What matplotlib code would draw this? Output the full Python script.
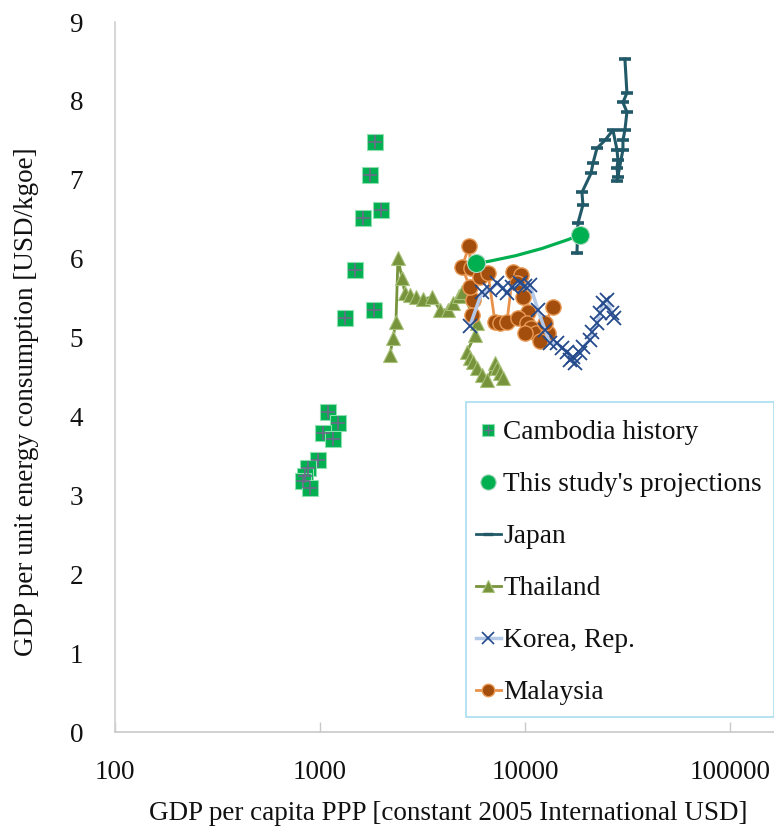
import matplotlib
matplotlib.use("Agg")
import matplotlib.pyplot as plt
from matplotlib.lines import Line2D
from matplotlib.patches import Rectangle
from matplotlib.ticker import FixedLocator, FixedFormatter, NullLocator

plt.rcParams['font.family'] = ['Liberation Serif', 'DejaVu Serif']

# GDP per capita PPP (constant 2005 international USD) and GDP per unit energy (USD/kgoe)
cambodia_gdp = [1854, 1753, 1985, 1621, 1482, 1834, 1324, 1094, 1224, 1034, 1157,
                978, 874, 845, 826, 894]
cambodia_eff = [7.48, 7.06, 6.62, 6.51, 5.86, 5.35, 5.25, 4.06, 3.92, 3.79, 3.71,
                3.45, 3.35, 3.24, 3.18, 3.09]

projection_gdp = [5768, 18530]
projection_eff = [5.94, 6.30]

japan_gdp = [17935, 18135, 19180, 18970, 20990, 21470, 22450, 24560, 26880, 28110,
             28430, 28110, 28430, 28110, 30060, 30060, 30740, 31440, 30060, 31440, 30740]
japan_eff = [6.07, 6.45, 6.68, 6.84, 7.08, 7.21, 7.40, 7.50, 7.63, 7.38,
             7.25, 7.15, 7.03, 6.98, 7.38, 7.50, 7.63, 7.86, 7.98, 8.10, 8.53]

thailand_gdp = [2195, 2270, 2348, 2402, 2512, 2598, 2748, 2940, 3180, 3518, 3849,
                4211, 4455, 4764, 4928, 5833, 5703, 5213, 5392, 5576, 5833, 6169,
                6525, 7140, 7302, 7551, 7811]
thailand_eff = [4.78, 4.99, 5.20, 6.01, 5.75, 5.56, 5.54, 5.51, 5.49, 5.51, 5.35,
                5.35, 5.44, 5.53, 5.58, 5.18, 5.03, 4.82, 4.74, 4.69, 4.61, 4.52,
                4.46, 4.68, 4.61, 4.55, 4.49]

korea_gdp = [5392, 6169, 6751, 7302, 7811, 8170, 8643, 9454, 10000, 10580, 11570,
             12520, 13240, 14330, 15150, 16030, 16580, 17530, 17140, 18540, 19180,
             20750, 21220, 22450, 23220, 24020, 25120, 26570, 27180]
korea_eff = [5.15, 5.58, 5.60, 5.69, 5.63, 5.56, 5.64, 5.69, 5.65, 5.67, 5.35,
             5.10, 4.93, 4.93, 4.87, 4.82, 4.71, 4.68, 4.75, 4.80, 4.88,
             4.97, 5.07, 5.18, 5.31, 5.44, 5.48, 5.31, 5.25]

malaysia_gdp = [5515, 5576, 5392, 4928, 5332, 5452, 6033, 6598, 7140, 7551, 8170,
                8741, 9561, 9142, 9777, 10340, 9245, 10230, 10700, 11320, 10000,
                12950, 11840, 12520, 13700]
malaysia_eff = [5.29, 5.48, 5.64, 5.89, 6.16, 5.88, 5.77, 5.82, 5.20, 5.18, 5.20,
                5.83, 5.79, 5.69, 5.51, 5.32, 5.25, 5.18, 5.12, 5.06, 5.06,
                5.06, 4.96, 5.18, 5.39]

x_ticks = [100, 1000, 10000, 100000]
x_tick_labels = ['100', '1000', '10000', '100000']
y_ticks = list(range(0, 10))

GREEN = '#00B050'
JAPAN = '#215968'
THAI = '#77933C'
KOREA_M = '#254A8C'
KOREA_L = '#B4C8E8'
MALAY = '#A34E0C'
MALAY_E = '#E99A55'
MALAY_L = '#E8914A'
TEXT = '#111111'

W, H = 774, 831
fig = plt.figure(figsize=(W / 100, H / 100), dpi=100)
ax = fig.add_axes([115 / W, 99 / H, 659 / W, 710 / H])

ax.plot(thailand_gdp, thailand_eff, color=THAI, lw=2, marker='^', ms=10,
        mfc=THAI, mec='#A9C27A', mew=0.8, zorder=3)
ax.plot(malaysia_gdp, malaysia_eff, color=MALAY_L, lw=2, marker='o', ms=11,
        mfc=MALAY, mec=MALAY_E, mew=1.0, zorder=4)
ax.plot(korea_gdp, korea_eff, color=KOREA_L, lw=2.5, marker='x', ms=10,
        mec=KOREA_M, mew=1.3, zorder=5)
ax.plot(japan_gdp, japan_eff, color=JAPAN, lw=2.2, marker='_', ms=9,
        mec=JAPAN, mew=2.6, zorder=6)

# projection path: a straight line in linear GDP terms bends on the log axis
ax.annotate('', xy=(projection_gdp[1], projection_eff[1]),
            xytext=(projection_gdp[0], projection_eff[0]),
            arrowprops=dict(arrowstyle='-', color=GREEN, lw=2.3,
                            connectionstyle='arc3,rad=0.06',
                            shrinkA=0, shrinkB=0), zorder=7)
ax.plot(projection_gdp, projection_eff, ls='none', marker='o', ms=13,
        mfc=GREEN, mec='#A8D8C0', mew=0.8, zorder=8)

ax.plot(cambodia_gdp, cambodia_eff, ls='none', marker='s', ms=11,
        mfc=GREEN, mec='#8FE0B0', mew=0.8, zorder=9)
ax.plot(cambodia_gdp, cambodia_eff, ls='none', marker='+', ms=10,
        mec='#6A6A8A', mew=1.2, zorder=10)

ax.set_xscale('log')
ax.set_xlim(100, 10 ** 5.215)
ax.set_ylim(0, 9)
ax.xaxis.set_major_locator(FixedLocator(x_ticks))
ax.xaxis.set_major_formatter(FixedFormatter(x_tick_labels))
ax.xaxis.set_minor_locator(NullLocator())
ax.set_yticks(y_ticks)

for s in ['top', 'right']:
    ax.spines[s].set_visible(False)
ax.spines['left'].set_color('#D0D0D0')
ax.spines['bottom'].set_color('#C8C8C8')
ax.spines['left'].set_linewidth(1.2)
ax.spines['bottom'].set_linewidth(1.2)

ax.tick_params(axis='x', direction='in', length=7, width=1, color='#C8C8C8',
               labelsize=19.5, pad=20, labelcolor=TEXT)
ax.tick_params(axis='y', length=0, labelsize=19.5, pad=23, labelcolor=TEXT)

ax.set_xlabel('GDP per capita PPP [constant 2005 International USD]', fontsize=19.5,
              color=TEXT)
ax.xaxis.set_label_coords(0.505, -0.097)
ax.set_ylabel('GDP per unit energy consumption [USD/kgoe]', fontsize=19.5,
              color=TEXT)
ax.yaxis.set_label_coords(-0.115, 0.465)

handles = [
    (Line2D([], [], ls='none', marker='s', ms=8, mfc=GREEN, mec='#8FE0B0', mew=0.8),
     Line2D([], [], ls='none', marker='+', ms=7, mec='#6A6A8A', mew=1.0)),
    Line2D([], [], ls='none', marker='o', ms=11, mfc=GREEN, mec='#A8D8C0', mew=0.8),
    Line2D([], [], color=JAPAN, lw=2, marker='_', ms=7, mec=JAPAN, mew=2.4),
    Line2D([], [], color=THAI, lw=2, marker='^', ms=9, mfc=THAI, mec='#A9C27A', mew=0.8),
    Line2D([], [], color=KOREA_L, lw=2.5, marker='x', ms=9, mec=KOREA_M, mew=1.2),
    Line2D([], [], color=MALAY_L, lw=2, marker='o', ms=9, mfc=MALAY, mec=MALAY_E, mew=1.0),
]
labels = ['Cambodia history', "This study's projections", 'Japan', 'Thailand',
          'Korea, Rep.', 'Malaysia']

# legend box drawn separately so the entries can sit closer to its left edge
box = Rectangle((466 / W, 1 - 717 / H), (W - 466) / W, (717 - 402) / H,
                transform=fig.transFigure, fill=True, facecolor='white',
                edgecolor='#A8DDF0', lw=1.2, zorder=20)
fig.patches.append(box)
leg = fig.legend(handles, labels, loc='upper left',
                 bbox_to_anchor=(466 / W, 1 - 410 / H),
                 fontsize=19.7, frameon=False,
                 handlelength=0.9, handletextpad=0.1, labelspacing=0.98,
                 borderpad=0.37, borderaxespad=0)
leg.set_zorder(21)
for t in leg.get_texts():
    t.set_color(TEXT)

fig.savefig('out.png', dpi=100)
